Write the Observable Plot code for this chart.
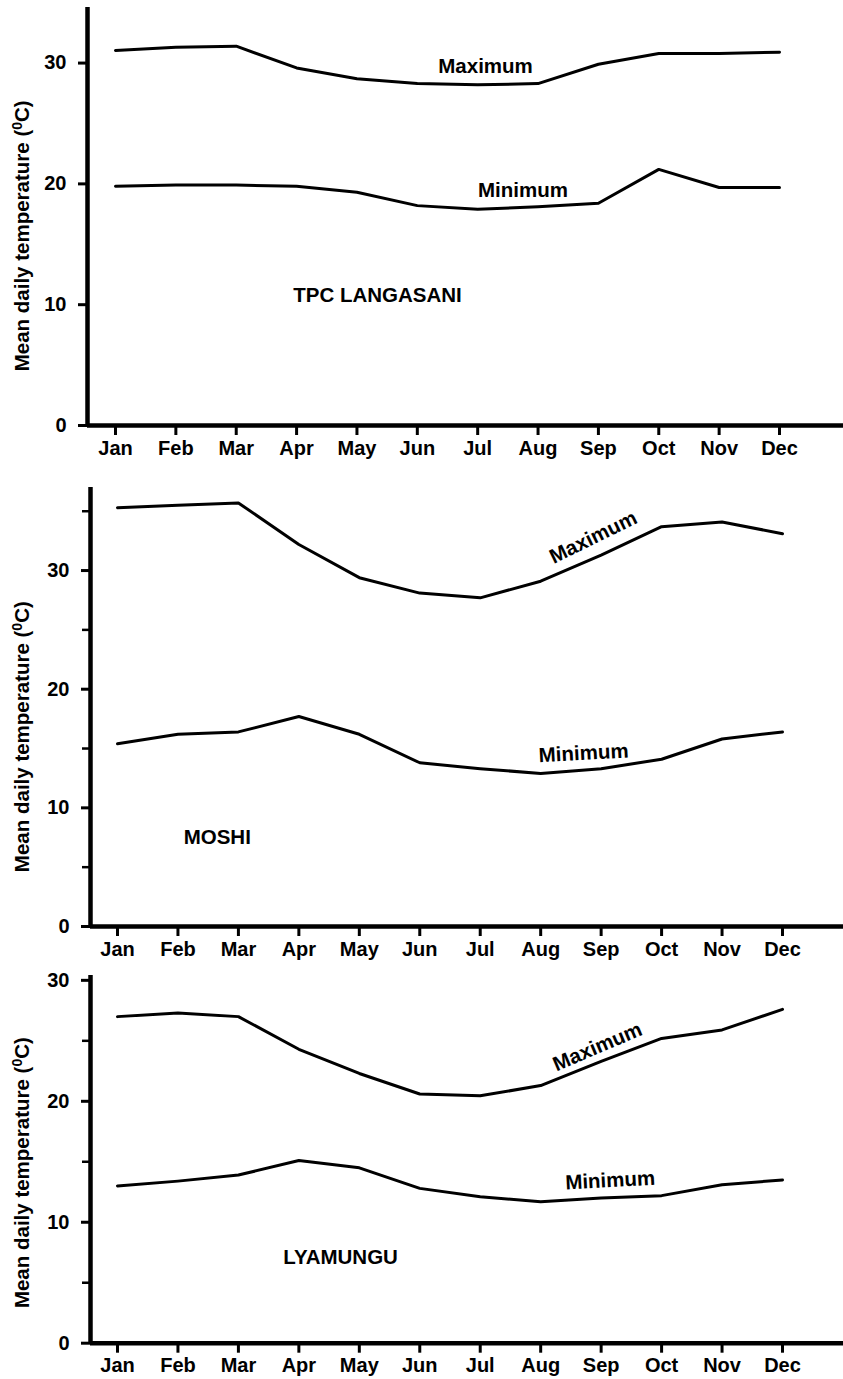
<!DOCTYPE html>
<html>
<head>
<meta charset="utf-8">
<script src="https://cdn.jsdelivr.net/npm/d3@7"></script>
<script src="https://cdn.jsdelivr.net/npm/@observablehq/plot@0.6"></script>
<style>
  body { margin: 0; background: #fff; }
  #chart { width: 843px; }
  #chart svg { display: block; overflow: visible; }
</style>
</head>
<body>
<div id="chart"></div>
<script>
// ---- Data ----
const months = ["Jan", "Feb", "Mar", "Apr", "May", "Jun", "Jul", "Aug", "Sep", "Oct", "Nov", "Dec"];

const tpcMax   = [31.05, 31.3, 31.4, 29.6, 28.7, 28.3, 28.2, 28.3, 29.9, 30.8, 30.8, 30.9];
const tpcMin   = [19.8, 19.9, 19.9, 19.8, 19.3, 18.2, 17.9, 18.1, 18.4, 21.2, 19.7, 19.7];

const moshiMax = [35.3, 35.5, 35.7, 32.2, 29.4, 28.1, 27.7, 29.1, 31.3, 33.7, 34.1, 33.1];
const moshiMin = [15.4, 16.2, 16.4, 17.7, 16.2, 13.8, 13.3, 12.9, 13.3, 14.1, 15.8, 16.4];

const lyaMax   = [27.0, 27.3, 27.0, 24.3, 22.3, 20.6, 20.45, 21.3, 23.3, 25.2, 25.9, 27.6];
const lyaMin   = [13.0, 13.4, 13.9, 15.1, 14.5, 12.8, 12.1, 11.7, 12.0, 12.2, 13.1, 13.5];

const stations = ["TPC LANGASANI", "MOSHI", "LYAMUNGU"];
const seriesNames = ["Maximum", "Minimum"];
const majorTicks = [0, 10, 20, 30];
const minorTicks = [5, 15, 25, 35];
const yLabel = "Mean daily temperature (\u2070C)";

// ---- Layout ----
const W = 843;
const FONT = "'Liberation Sans', Arial, Helvetica, sans-serif";

const panels = [
  {
    max: tpcMax, min: tpcMin, station: stations[0],
    height: 468, marginTop: 7, marginBottom: 43, yTop: 34.6,
    axisX: 87, jan: 115, dec: 779, minor: false, labelY: 15.7,
    ann: [
      {t: seriesNames[0], x: 6.13, y: 29.75, r: 0},
      {t: seriesNames[1], x: 6.75, y: 19.45, r: 0},
      {t: stations[0], x: 4.34, y: 10.76, r: 0}
    ]
  },
  {
    max: moshiMax, min: moshiMin, station: stations[1],
    height: 496, marginTop: 19, marginBottom: 38, yTop: 37.0,
    axisX: 90, jan: 117, dec: 782, minor: true, labelY: 16.0,
    ann: [
      {t: seriesNames[0], x: 7.87, y: 32.8, r: -26},
      {t: seriesNames[1], x: 7.71, y: 14.6, r: -3},
      {t: stations[1], x: 1.65, y: 7.5, r: 0}
    ]
  },
  {
    max: lyaMax, min: lyaMin, station: stations[2],
    height: 415, marginTop: 11, marginBottom: 36.3, yTop: 30.4,
    axisX: 90, jan: 117, dec: 782, minor: true, labelY: 14.1,
    ann: [
      {t: seriesNames[0], x: 7.94, y: 24.5, r: -23},
      {t: seriesNames[1], x: 8.15, y: 13.45, r: -3},
      {t: stations[2], x: 3.69, y: 7.05, r: 0}
    ]
  }
];

const chart = document.getElementById("chart");

for (const p of panels) {
  const s = (p.dec - p.jan) / 11;
  const x0 = -(p.jan - p.axisX) / s;
  const x1 = (W - p.jan) / s;
  const rows = months.flatMap((m, i) => [
    {i, v: p.max[i], series: seriesNames[0]},
    {i, v: p.min[i], series: seriesNames[1]}
  ]);
  const majors = majorTicks.filter((t) => t <= p.yTop);
  const minors = minorTicks.filter((t) => t <= p.yTop);

  const marks = [
    Plot.line(rows, {x: "i", y: "v", z: "series", stroke: "#000", strokeWidth: 3, strokeLinejoin: "round", strokeLinecap: "round"}),
    Plot.axisY(majors, {
      tickSize: 9, tickPadding: 12, strokeWidth: 3, label: null,
      fontSize: 20, fontWeight: "bold"
    }),
    p.minor ? Plot.axisY(minors, {tickSize: 8, strokeWidth: 2.5, tickFormat: () => "", label: null}) : null,
    Plot.axisX(d3.range(12), {
      tickSize: 10, tickPadding: 5, strokeWidth: 3, label: null,
      tickFormat: (d) => months[d], fontSize: 20, fontWeight: "bold"
    }),
    Plot.ruleY([0], {stroke: "#000", strokeWidth: 4.5}),
    Plot.ruleX([x0], {stroke: "#000", strokeWidth: 4.5}),
    Plot.text(p.ann, {
      x: "x", y: "y", text: "t", rotate: "r",
      fontSize: 20.5, fontWeight: "bold", fill: "#000"
    }),
    Plot.text([yLabel], {
      y: [p.labelY], text: (d) => d, frameAnchor: "left",
      dx: 22 - p.axisX, rotate: -90, lineAnchor: "middle", textAnchor: "middle",
      fontSize: 20.5, fontWeight: "bold", fill: "#000"
    })
  ].filter(Boolean);

  const svg = Plot.plot({
    width: W,
    height: p.height,
    marginTop: p.marginTop,
    marginBottom: p.marginBottom,
    marginLeft: p.axisX,
    marginRight: 0,
    style: {fontFamily: FONT, fontSize: "20px", fontWeight: "bold", color: "#000", background: "#fff", overflow: "visible"},
    x: {type: "linear", domain: [x0, x1], axis: null},
    y: {type: "linear", domain: [0, p.yTop], axis: null},
    marks
  });

  // superscript "0" in the axis label
  d3.select(svg).selectAll("text")
    .filter(function () { return this.textContent === yLabel; })
    .each(function () {
      const t = d3.select(this);
      t.text(null);
      t.append("tspan").text("Mean daily temperature (");
      t.append("tspan").attr("dy", "-7").attr("font-size", "14").text("0");
      t.append("tspan").attr("dy", "7").text("C)");
    });

  chart.appendChild(svg);
}
</script>
</body>
</html>
